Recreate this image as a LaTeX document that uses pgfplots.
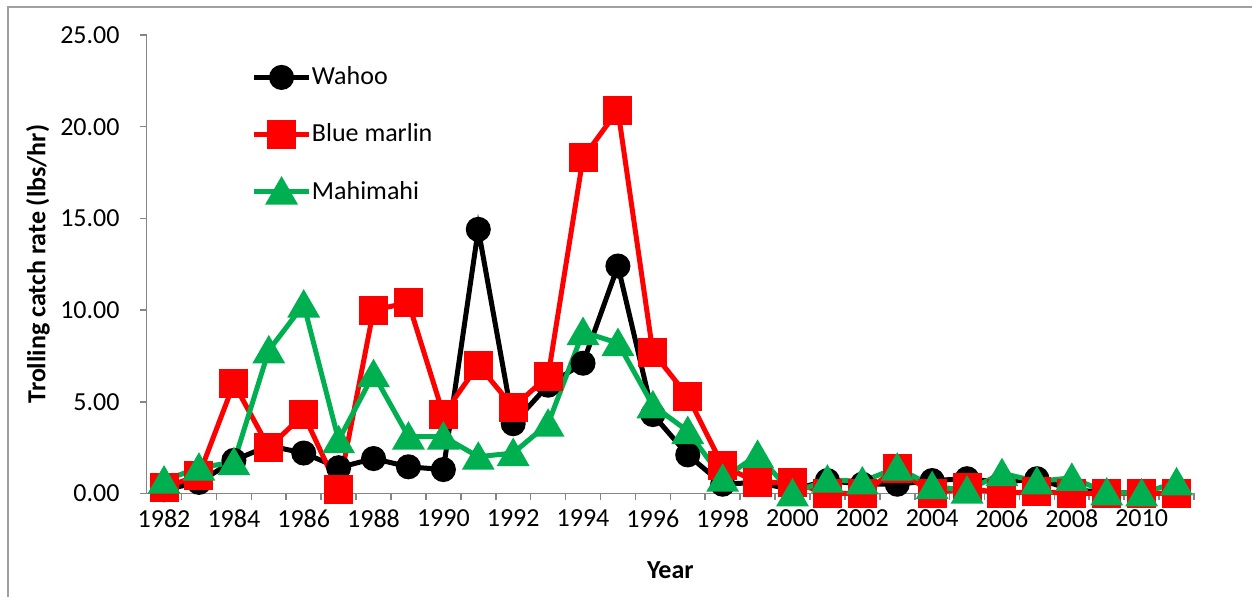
\documentclass[border=0pt]{standalone}
\usepackage{fontspec}
\setmainfont{Carlito}
\usepackage{pgfplots}
\pgfplotsset{compat=1.18}
\usepackage{pgfplotstable}
\definecolor{axgray}{RGB}{134,134,134}
\definecolor{frgray}{RGB}{160,160,160}
\definecolor{mahi}{RGB}{0,176,80}

\pgfplotstableread{
year wahoo marlin mahi
1982 0.2 0.3 0.7
1983 0.6 1.0 1.4
1984 1.8 6.0 1.7
1985 2.6 2.5 7.8
1986 2.2 4.3 10.3
1987 1.4 0.2 2.9
1988 1.9 10.0 6.5
1989 1.45 10.4 3.1
1990 1.3 4.3 3.1
1991 14.4 7.0 2.0
1992 3.8 4.7 2.2
1993 5.9 6.4 3.8
1994 7.1 18.3 8.8
1995 12.4 20.9 8.2
1996 4.3 7.7 4.8
1997 2.1 5.3 3.4
1998 0.5 1.5 0.8
1999 0.6 0.6 2.1
2000 0.2 0.6 0.0
2001 0.7 0.0 0.75
2002 0.5 0.0 0.65
2003 0.5 1.35 1.4
2004 0.7 0.0 0.4
2005 0.8 0.3 0.15
2006 0.6 0.0 1.1
2007 0.8 0.1 0.65
2008 0.2 0.0 0.85
2009 0.05 0.0 0.05
2010 0.0 0.0 0.0
2011 0.0 0.0 0.6
}\catchdata

\begin{document}
\begin{tikzpicture}
\begin{axis}[
  name=ax,
  at={(0pt,0pt)}, anchor=south west,
  scale only axis,
  width=523.7pt, height=229.2pt,
  xmin=1981.5, xmax=2011.5,
  ymin=0, ymax=25,
  axis x line*=bottom, axis y line*=left,
  axis line style={draw=axgray, line width=0.8pt, -},
  xtick={1982,1984,...,2010},
  major x tick style={draw=none},
  minor xtick={1982.5,1983.5,...,2011.5},
  minor x tick style={draw=axgray, line width=0.8pt},
  minor tick length=3.5pt,
  ytick={0,5,...,25},
  major y tick style={draw=axgray, line width=0.8pt},
  major tick length=3.5pt,
  tick align=outside,
  xticklabel={\pgfmathprintnumber[/pgf/number format/1000 sep={}]{\tick}},
  y tick label style={/pgf/number format/fixed, /pgf/number format/fixed zerofill,
    /pgf/number format/precision=2, xshift=-6.5pt},
  /pgf/number format/assume math mode=true,
  tick label style={font=\fontsize{13}{15}\selectfont},
  x tick label style={yshift=-1pt},
  xlabel={\textbf{Year}},
  ylabel={\textbf{Trolling catch rate (lbs/hr)}},
  label style={font=\fontsize{13}{15}\selectfont},
  xlabel style={at={(0.5,0)}, anchor=center, yshift=-38.5pt},
  ylabel style={at={(0,0.5)}, anchor=center, yshift=54.3pt},
  clip=false,
  legend cell align=left,
  legend style={at={(0.1,0.94)}, anchor=north west, draw=none, fill=none,
    font=\fontsize{13}{15}\selectfont, row sep=14pt, inner sep=0pt,
    nodes={inner xsep=0pt}},
  legend image code/.code={
    \draw[mark repeat=2, mark phase=2] plot coordinates {(0cm,0cm) (0.48cm,0cm) (0.97cm,0cm)};
  },
]
\addplot[black, line width=2.5pt, mark=*, mark size=5pt, mark options={solid}]
  table[x=year, y=wahoo] {\catchdata};
\addplot[red, line width=2.5pt, mark=square*, mark size=6pt, mark options={solid}]
  table[x=year, y=marlin] {\catchdata};
\addplot[mahi, line width=2.5pt, mark=triangle*, mark size=7pt, mark options={solid, yshift=-1.75pt}]
  table[x=year, y=mahi] {\catchdata};
\legend{Wahoo, Blue marlin, Mahimahi}
\end{axis}
\path[use as bounding box] (-73.3pt,-51.85pt) rectangle (552.7pt,246.7pt);
\draw[frgray, line width=0.8pt] (-69.3pt,-52pt) -- (-69.3pt,243.2pt) -- (553pt,243.2pt);
\end{tikzpicture}
\end{document}
